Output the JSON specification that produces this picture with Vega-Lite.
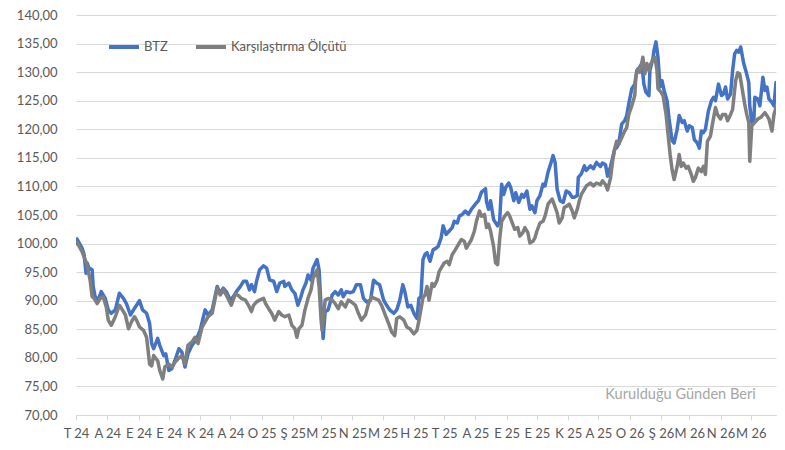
{
"$schema":"https://vega.github.io/schema/vega-lite/v6.json",
"width":700,"height":400,
"autosize":{"type":"none"},
"padding":{"left":76,"top":15,"right":9,"bottom":35},
"background":"white",
"config":{"view":{"stroke":null},"font":"Lato",
 "axisX":{"grid":false,"tickCount":{"interval":"month","step":1},"labelExpr":"['O','Ş','M','N','M','H','T','A','E','E','K','A'][utcmonth(datum.value)] + ' ' + utcFormat(datum.value, '%y')","domainColor":"#D9D9D9","tickColor":"#D9D9D9","tickSize":5,"labelColor":"#595959","labelFontSize":13,"labelFont":"Lato","labelPadding":7,"labelOverlap":false,"labelFlush":false,"labelAlign":"center"},
 "axisY":{"tickCount":14,"labelExpr":"replace(format(datum.value,'.2f'),'.',',')","ticks":false,"tickSize":0,"domain":false,"gridColor":"#D9D9D9","labelColor":"#595959","labelFontSize":13,"labelFont":"Lato","labelPadding":19}
},
"layer":[
{"data":{"values":[
{"date":"2024-07-01","value":100.0},{"date":"2024-07-02","value":100.8},{"date":"2024-07-07","value":99.2},{"date":"2024-07-09","value":98.1},{"date":"2024-07-11","value":94.8},{"date":"2024-07-12","value":96.6},{"date":"2024-07-14","value":95.7},{"date":"2024-07-17","value":95.4},{"date":"2024-07-18","value":92.5},{"date":"2024-07-20","value":90.7},{"date":"2024-07-23","value":90.1},{"date":"2024-07-26","value":91.6},{"date":"2024-07-30","value":90.4},{"date":"2024-08-02","value":88.4},{"date":"2024-08-05","value":87.8},{"date":"2024-08-09","value":88.4},{"date":"2024-08-13","value":91.3},{"date":"2024-08-17","value":90.4},{"date":"2024-08-20","value":89.5},{"date":"2024-08-24","value":87.5},{"date":"2024-08-27","value":88.4},{"date":"2024-08-30","value":89.2},{"date":"2024-09-02","value":90.0},{"date":"2024-09-05","value":88.4},{"date":"2024-09-09","value":87.8},{"date":"2024-09-12","value":86.0},{"date":"2024-09-14","value":82.5},{"date":"2024-09-16","value":81.6},{"date":"2024-09-20","value":83.4},{"date":"2024-09-22","value":82.2},{"date":"2024-09-26","value":80.4},{"date":"2024-09-28","value":80.7},{"date":"2024-10-01","value":77.8},{"date":"2024-10-04","value":78.1},{"date":"2024-10-07","value":79.5},{"date":"2024-10-11","value":81.6},{"date":"2024-10-14","value":81.0},{"date":"2024-10-17","value":78.4},{"date":"2024-10-20","value":80.7},{"date":"2024-10-24","value":82.2},{"date":"2024-10-28","value":83.1},{"date":"2024-11-01","value":84.8},{"date":"2024-11-06","value":88.4},{"date":"2024-11-09","value":87.5},{"date":"2024-11-13","value":88.4},{"date":"2024-11-18","value":92.5},{"date":"2024-11-21","value":91.3},{"date":"2024-11-24","value":92.2},{"date":"2024-11-27","value":91.6},{"date":"2024-12-01","value":90.1},{"date":"2024-12-04","value":90.7},{"date":"2024-12-07","value":91.6},{"date":"2024-12-11","value":92.5},{"date":"2024-12-14","value":93.4},{"date":"2024-12-17","value":93.4},{"date":"2024-12-20","value":91.9},{"date":"2024-12-22","value":92.8},{"date":"2024-12-25","value":91.6},{"date":"2024-12-27","value":93.4},{"date":"2024-12-30","value":95.4},
{"date":"2025-01-03","value":96.1},{"date":"2025-01-06","value":95.7},{"date":"2025-01-09","value":93.6},{"date":"2025-01-13","value":93.4},{"date":"2025-01-16","value":91.6},{"date":"2025-01-19","value":93.1},{"date":"2025-01-23","value":93.4},{"date":"2025-01-24","value":92.5},{"date":"2025-01-28","value":93.1},{"date":"2025-01-31","value":91.9},{"date":"2025-02-03","value":91.3},{"date":"2025-02-06","value":89.2},{"date":"2025-02-09","value":90.7},{"date":"2025-02-11","value":91.9},{"date":"2025-02-14","value":93.1},{"date":"2025-02-16","value":94.5},{"date":"2025-02-19","value":93.6},{"date":"2025-02-21","value":95.7},{"date":"2025-02-25","value":97.2},{"date":"2025-02-27","value":95.4},{"date":"2025-03-01","value":88.9},{"date":"2025-03-03","value":83.4},{"date":"2025-03-05","value":88.1},{"date":"2025-03-08","value":88.4},{"date":"2025-03-12","value":91.0},{"date":"2025-03-15","value":91.6},{"date":"2025-03-18","value":91.0},{"date":"2025-03-21","value":91.9},{"date":"2025-03-23","value":90.7},{"date":"2025-03-26","value":91.6},{"date":"2025-03-30","value":91.4},{"date":"2025-04-02","value":91.6},{"date":"2025-04-05","value":92.8},{"date":"2025-04-09","value":92.8},{"date":"2025-04-12","value":90.4},{"date":"2025-04-15","value":89.8},{"date":"2025-04-19","value":90.1},{"date":"2025-04-22","value":93.6},{"date":"2025-04-25","value":93.1},{"date":"2025-04-28","value":92.8},{"date":"2025-05-02","value":90.1},{"date":"2025-05-05","value":89.2},{"date":"2025-05-08","value":88.4},{"date":"2025-05-12","value":87.8},{"date":"2025-05-15","value":88.4},{"date":"2025-05-18","value":90.1},{"date":"2025-05-21","value":92.8},{"date":"2025-05-23","value":91.6},{"date":"2025-05-26","value":88.9},{"date":"2025-05-29","value":89.2},{"date":"2025-06-01","value":87.8},{"date":"2025-06-04","value":86.9},{"date":"2025-06-06","value":90.4},{"date":"2025-06-08","value":90.7},{"date":"2025-06-10","value":97.2},{"date":"2025-06-12","value":98.1},{"date":"2025-06-14","value":98.4},{"date":"2025-06-17","value":96.9},{"date":"2025-06-20","value":98.9},{"date":"2025-06-23","value":99.2},{"date":"2025-06-25","value":99.5},{"date":"2025-06-28","value":101.0},{"date":"2025-06-30","value":103.1},
{"date":"2025-07-03","value":101.6},{"date":"2025-07-06","value":102.2},{"date":"2025-07-09","value":102.8},{"date":"2025-07-11","value":103.9},{"date":"2025-07-14","value":103.6},{"date":"2025-07-16","value":104.8},{"date":"2025-07-19","value":105.1},{"date":"2025-07-22","value":105.7},{"date":"2025-07-25","value":105.1},{"date":"2025-07-28","value":106.0},{"date":"2025-08-01","value":106.9},{"date":"2025-08-04","value":107.5},{"date":"2025-08-07","value":109.0},{"date":"2025-08-11","value":109.6},{"date":"2025-08-12","value":107.3},{"date":"2025-08-14","value":106.0},{"date":"2025-08-16","value":107.5},{"date":"2025-08-19","value":104.2},{"date":"2025-08-23","value":103.1},{"date":"2025-08-25","value":103.9},{"date":"2025-08-27","value":110.4},{"date":"2025-08-29","value":108.6},{"date":"2025-08-31","value":109.8},{"date":"2025-09-03","value":110.6},{"date":"2025-09-05","value":109.8},{"date":"2025-09-08","value":107.5},{"date":"2025-09-10","value":108.9},{"date":"2025-09-13","value":107.2},{"date":"2025-09-16","value":108.6},{"date":"2025-09-18","value":108.1},{"date":"2025-09-21","value":109.2},{"date":"2025-09-24","value":106.0},{"date":"2025-09-26","value":106.6},{"date":"2025-09-29","value":105.4},{"date":"2025-10-01","value":107.5},{"date":"2025-10-04","value":108.4},{"date":"2025-10-07","value":110.4},{"date":"2025-10-09","value":110.1},{"date":"2025-10-12","value":112.5},{"date":"2025-10-15","value":114.2},{"date":"2025-10-17","value":115.4},{"date":"2025-10-19","value":114.2},{"date":"2025-10-21","value":109.5},{"date":"2025-10-24","value":107.5},{"date":"2025-10-27","value":107.2},{"date":"2025-10-30","value":109.2},{"date":"2025-11-02","value":108.9},{"date":"2025-11-05","value":108.1},{"date":"2025-11-07","value":108.1},{"date":"2025-11-10","value":108.4},{"date":"2025-11-11","value":111.6},{"date":"2025-11-14","value":112.2},{"date":"2025-11-17","value":113.6},{"date":"2025-11-19","value":112.8},{"date":"2025-11-23","value":113.6},{"date":"2025-11-26","value":113.1},{"date":"2025-11-29","value":114.2},{"date":"2025-12-03","value":113.5},{"date":"2025-12-05","value":114.1},{"date":"2025-12-08","value":113.8},{"date":"2025-12-10","value":111.8},{"date":"2025-12-13","value":113.5},{"date":"2025-12-15","value":115.0},{"date":"2025-12-17","value":116.5},{"date":"2025-12-19","value":116.8},{"date":"2025-12-21","value":117.4},{"date":"2025-12-24","value":120.9},{"date":"2025-12-27","value":121.5},{"date":"2025-12-29","value":122.4},{"date":"2025-12-31","value":124.4},
{"date":"2026-01-03","value":127.1},{"date":"2026-01-06","value":127.9},{"date":"2026-01-08","value":130.3},{"date":"2026-01-10","value":130.6},{"date":"2026-01-13","value":131.5},{"date":"2026-01-15","value":127.9},{"date":"2026-01-17","value":126.5},{"date":"2026-01-20","value":125.9},{"date":"2026-01-21","value":130.3},{"date":"2026-01-24","value":132.4},{"date":"2026-01-25","value":133.8},{"date":"2026-01-27","value":135.3},{"date":"2026-01-29","value":132.6},{"date":"2026-01-31","value":127.4},{"date":"2026-02-02","value":128.5},{"date":"2026-02-04","value":126.8},{"date":"2026-02-07","value":125.0},{"date":"2026-02-09","value":121.8},{"date":"2026-02-12","value":118.0},{"date":"2026-02-14","value":117.6},{"date":"2026-02-17","value":120.0},{"date":"2026-02-19","value":122.4},{"date":"2026-02-22","value":121.2},{"date":"2026-02-24","value":121.5},{"date":"2026-02-27","value":119.7},{"date":"2026-03-01","value":120.6},{"date":"2026-03-04","value":120.3},{"date":"2026-03-06","value":118.2},{"date":"2026-03-09","value":117.6},{"date":"2026-03-11","value":116.7},{"date":"2026-03-13","value":119.7},{"date":"2026-03-15","value":119.4},{"date":"2026-03-17","value":120.0},{"date":"2026-03-20","value":123.2},{"date":"2026-03-23","value":125.0},{"date":"2026-03-25","value":125.6},{"date":"2026-03-27","value":125.0},{"date":"2026-03-30","value":127.9},{"date":"2026-04-02","value":125.9},{"date":"2026-04-04","value":126.2},{"date":"2026-04-06","value":127.4},{"date":"2026-04-08","value":125.3},{"date":"2026-04-11","value":126.2},{"date":"2026-04-13","value":130.3},{"date":"2026-04-15","value":133.2},{"date":"2026-04-17","value":133.8},{"date":"2026-04-19","value":133.5},{"date":"2026-04-21","value":134.4},{"date":"2026-04-24","value":131.5},{"date":"2026-04-26","value":130.3},{"date":"2026-04-29","value":128.2},{"date":"2026-04-30","value":124.1},{"date":"2026-05-02","value":121.2},{"date":"2026-05-04","value":121.5},{"date":"2026-05-05","value":125.6},{"date":"2026-05-08","value":125.3},{"date":"2026-05-10","value":124.1},{"date":"2026-05-13","value":129.1},{"date":"2026-05-15","value":126.8},{"date":"2026-05-17","value":127.4},{"date":"2026-05-19","value":125.3},{"date":"2026-05-22","value":124.7},{"date":"2026-05-24","value":124.1},{"date":"2026-05-26","value":128.2}
]},
"mark":{"type":"line","strokeWidth":3.5,"strokeJoin":"round","strokeCap":"round","clip":true},
"encoding":{
 "x":{"field":"date","type":"temporal","scale":{"type":"utc","domain":[{"year":2024,"month":7,"date":1,"utc":true},{"year":2026,"month":5,"date":26,"utc":true}]},"axis":{"title":null}},
 "y":{"field":"value","type":"quantitative","scale":{"domain":[70,140],"nice":false,"zero":false},"axis":{"title":null}},
 "color":{"datum":"BTZ","type":"nominal","scale":{"domain":["BTZ","Karşılaştırma Ölçütü"],"range":["#4472C4","#7F7F7F"]},
 "legend":{"orient":"none","legendX":31,"legendY":15,"direction":"horizontal","title":null,"symbolType":"stroke","symbolStrokeWidth":4,"symbolSize":900,"labelFontSize":13,"labelFont":"Lato","labelColor":"#595959","labelOffset":3,"columnPadding":20}}}},
{"data":{"values":[
{"date":"2024-07-01","value":100.0},{"date":"2024-07-02","value":100.2},{"date":"2024-07-07","value":98.6},{"date":"2024-07-10","value":97.2},{"date":"2024-07-12","value":96.3},{"date":"2024-07-15","value":93.6},{"date":"2024-07-17","value":90.7},{"date":"2024-07-19","value":90.4},{"date":"2024-07-22","value":89.5},{"date":"2024-07-25","value":90.4},{"date":"2024-07-28","value":90.7},{"date":"2024-07-31","value":88.9},{"date":"2024-08-02","value":86.6},{"date":"2024-08-05","value":85.7},{"date":"2024-08-09","value":87.2},{"date":"2024-08-13","value":89.2},{"date":"2024-08-16","value":88.4},{"date":"2024-08-19","value":87.5},{"date":"2024-08-22","value":85.1},{"date":"2024-08-25","value":86.3},{"date":"2024-08-28","value":87.2},{"date":"2024-08-30","value":86.6},{"date":"2024-09-02","value":85.4},{"date":"2024-09-06","value":84.8},{"date":"2024-09-09","value":83.6},{"date":"2024-09-12","value":78.9},{"date":"2024-09-14","value":78.6},{"date":"2024-09-16","value":80.4},{"date":"2024-09-20","value":79.5},{"date":"2024-09-22","value":77.8},{"date":"2024-09-25","value":76.3},{"date":"2024-09-27","value":78.4},{"date":"2024-10-01","value":78.9},{"date":"2024-10-04","value":78.4},{"date":"2024-10-07","value":79.2},{"date":"2024-10-10","value":79.8},{"date":"2024-10-14","value":80.4},{"date":"2024-10-17","value":78.9},{"date":"2024-10-20","value":82.2},{"date":"2024-10-24","value":82.8},{"date":"2024-10-27","value":83.6},{"date":"2024-10-30","value":82.5},{"date":"2024-11-03","value":85.4},{"date":"2024-11-06","value":86.3},{"date":"2024-11-09","value":87.2},{"date":"2024-11-13","value":87.8},{"date":"2024-11-18","value":92.2},{"date":"2024-11-21","value":91.0},{"date":"2024-11-24","value":91.9},{"date":"2024-11-27","value":91.0},{"date":"2024-12-02","value":89.2},{"date":"2024-12-06","value":91.2},{"date":"2024-12-09","value":90.9},{"date":"2024-12-12","value":90.4},{"date":"2024-12-16","value":90.1},{"date":"2024-12-19","value":89.2},{"date":"2024-12-22","value":88.1},{"date":"2024-12-24","value":89.2},{"date":"2024-12-27","value":89.8},{"date":"2024-12-30","value":90.1},
{"date":"2025-01-03","value":90.4},{"date":"2025-01-05","value":89.5},{"date":"2025-01-08","value":88.6},{"date":"2025-01-11","value":87.8},{"date":"2025-01-14","value":86.6},{"date":"2025-01-18","value":88.1},{"date":"2025-01-21","value":87.5},{"date":"2025-01-24","value":87.2},{"date":"2025-01-28","value":87.5},{"date":"2025-01-31","value":85.7},{"date":"2025-02-03","value":85.1},{"date":"2025-02-05","value":83.6},{"date":"2025-02-07","value":85.1},{"date":"2025-02-10","value":85.7},{"date":"2025-02-13","value":88.4},{"date":"2025-02-16","value":90.4},{"date":"2025-02-19","value":91.9},{"date":"2025-02-21","value":93.9},{"date":"2025-02-25","value":95.4},{"date":"2025-02-27","value":92.5},{"date":"2025-03-01","value":86.6},{"date":"2025-03-02","value":84.8},{"date":"2025-03-05","value":90.1},{"date":"2025-03-08","value":90.4},{"date":"2025-03-12","value":90.1},{"date":"2025-03-15","value":89.5},{"date":"2025-03-18","value":88.6},{"date":"2025-03-21","value":89.8},{"date":"2025-03-25","value":88.9},{"date":"2025-03-28","value":90.1},{"date":"2025-03-31","value":89.8},{"date":"2025-04-04","value":89.2},{"date":"2025-04-07","value":87.8},{"date":"2025-04-10","value":86.6},{"date":"2025-04-14","value":87.5},{"date":"2025-04-17","value":89.5},{"date":"2025-04-20","value":90.7},{"date":"2025-04-23","value":90.4},{"date":"2025-04-27","value":90.1},{"date":"2025-04-30","value":89.2},{"date":"2025-05-03","value":87.8},{"date":"2025-05-07","value":86.0},{"date":"2025-05-10","value":84.5},{"date":"2025-05-13","value":83.9},{"date":"2025-05-15","value":86.9},{"date":"2025-05-18","value":87.2},{"date":"2025-05-22","value":86.6},{"date":"2025-05-25","value":85.4},{"date":"2025-05-28","value":85.1},{"date":"2025-06-01","value":84.2},{"date":"2025-06-04","value":84.8},{"date":"2025-06-06","value":86.5},{"date":"2025-06-10","value":90.5},{"date":"2025-06-12","value":91.0},{"date":"2025-06-14","value":92.5},{"date":"2025-06-16","value":90.1},{"date":"2025-06-19","value":93.0},{"date":"2025-06-21","value":92.5},{"date":"2025-06-24","value":93.6},{"date":"2025-06-26","value":95.1},{"date":"2025-06-29","value":96.0},
{"date":"2025-07-01","value":96.6},{"date":"2025-07-04","value":96.9},{"date":"2025-07-06","value":96.3},{"date":"2025-07-09","value":98.1},{"date":"2025-07-12","value":98.9},{"date":"2025-07-14","value":99.5},{"date":"2025-07-16","value":100.1},{"date":"2025-07-18","value":100.7},{"date":"2025-07-21","value":100.4},{"date":"2025-07-23","value":99.2},{"date":"2025-07-26","value":100.1},{"date":"2025-07-28","value":100.7},{"date":"2025-07-31","value":102.2},{"date":"2025-08-02","value":103.9},{"date":"2025-08-05","value":105.7},{"date":"2025-08-07","value":104.8},{"date":"2025-08-10","value":105.1},{"date":"2025-08-12","value":102.8},{"date":"2025-08-14","value":103.4},{"date":"2025-08-16","value":102.2},{"date":"2025-08-19","value":99.5},{"date":"2025-08-21","value":96.6},{"date":"2025-08-23","value":96.3},{"date":"2025-08-25","value":100.7},{"date":"2025-08-27","value":103.9},{"date":"2025-08-30","value":104.8},{"date":"2025-09-02","value":105.4},{"date":"2025-09-04","value":104.8},{"date":"2025-09-07","value":103.4},{"date":"2025-09-09","value":102.5},{"date":"2025-09-12","value":102.8},{"date":"2025-09-14","value":101.3},{"date":"2025-09-17","value":101.9},{"date":"2025-09-19","value":102.8},{"date":"2025-09-22","value":101.9},{"date":"2025-09-24","value":100.1},{"date":"2025-09-27","value":100.4},{"date":"2025-09-29","value":101.0},{"date":"2025-10-01","value":102.2},{"date":"2025-10-04","value":103.6},{"date":"2025-10-07","value":103.9},{"date":"2025-10-09","value":104.8},{"date":"2025-10-12","value":106.9},{"date":"2025-10-16","value":107.8},{"date":"2025-10-18","value":106.9},{"date":"2025-10-21","value":105.4},{"date":"2025-10-23","value":103.6},{"date":"2025-10-26","value":104.5},{"date":"2025-10-28","value":106.3},{"date":"2025-10-31","value":106.6},{"date":"2025-11-02","value":106.9},{"date":"2025-11-05","value":105.7},{"date":"2025-11-07","value":104.5},{"date":"2025-11-10","value":106.0},{"date":"2025-11-12","value":107.5},{"date":"2025-11-14","value":108.6},{"date":"2025-11-17","value":109.5},{"date":"2025-11-19","value":110.1},{"date":"2025-11-23","value":110.6},{"date":"2025-11-26","value":110.1},{"date":"2025-11-29","value":110.6},{"date":"2025-12-03","value":110.3},{"date":"2025-12-05","value":111.0},{"date":"2025-12-08","value":110.3},{"date":"2025-12-10","value":109.4},{"date":"2025-12-13","value":111.5},{"date":"2025-12-15","value":114.4},{"date":"2025-12-17","value":116.5},{"date":"2025-12-19","value":117.9},{"date":"2025-12-21","value":117.4},{"date":"2025-12-24","value":118.5},{"date":"2025-12-27","value":119.7},{"date":"2025-12-29","value":120.3},{"date":"2025-12-31","value":122.6},
{"date":"2026-01-03","value":124.1},{"date":"2026-01-06","value":125.9},{"date":"2026-01-07","value":129.1},{"date":"2026-01-09","value":130.6},{"date":"2026-01-11","value":130.0},{"date":"2026-01-14","value":132.6},{"date":"2026-01-16","value":129.7},{"date":"2026-01-18","value":131.5},{"date":"2026-01-20","value":130.3},{"date":"2026-01-21","value":131.2},{"date":"2026-01-24","value":132.1},{"date":"2026-01-26","value":132.6},{"date":"2026-01-28","value":130.3},{"date":"2026-01-29","value":127.1},{"date":"2026-02-01","value":126.5},{"date":"2026-02-03","value":125.9},{"date":"2026-02-06","value":122.6},{"date":"2026-02-08","value":119.1},{"date":"2026-02-10","value":115.6},{"date":"2026-02-12","value":112.9},{"date":"2026-02-14","value":111.2},{"date":"2026-02-17","value":113.5},{"date":"2026-02-19","value":115.6},{"date":"2026-02-21","value":113.5},{"date":"2026-02-23","value":114.1},{"date":"2026-02-26","value":113.2},{"date":"2026-02-28","value":113.5},{"date":"2026-03-03","value":112.1},{"date":"2026-03-05","value":110.9},{"date":"2026-03-07","value":111.5},{"date":"2026-03-10","value":113.2},{"date":"2026-03-13","value":112.6},{"date":"2026-03-15","value":113.5},{"date":"2026-03-17","value":112.1},{"date":"2026-03-19","value":117.9},{"date":"2026-03-22","value":118.8},{"date":"2026-03-24","value":120.9},{"date":"2026-03-27","value":123.8},{"date":"2026-03-29","value":122.6},{"date":"2026-04-01","value":121.8},{"date":"2026-04-03","value":122.6},{"date":"2026-04-06","value":122.6},{"date":"2026-04-08","value":121.5},{"date":"2026-04-11","value":122.6},{"date":"2026-04-13","value":123.5},{"date":"2026-04-16","value":128.5},{"date":"2026-04-18","value":129.9},{"date":"2026-04-20","value":129.7},{"date":"2026-04-22","value":127.6},{"date":"2026-04-25","value":124.4},{"date":"2026-04-27","value":122.6},{"date":"2026-04-29","value":121.2},{"date":"2026-04-30","value":114.4},{"date":"2026-05-02","value":120.6},{"date":"2026-05-05","value":121.2},{"date":"2026-05-08","value":121.8},{"date":"2026-05-11","value":122.1},{"date":"2026-05-15","value":122.9},{"date":"2026-05-17","value":122.4},{"date":"2026-05-19","value":121.8},{"date":"2026-05-22","value":119.7},{"date":"2026-05-24","value":122.6},{"date":"2026-05-26","value":123.8}
]},
"mark":{"type":"line","strokeWidth":3.5,"strokeJoin":"round","strokeCap":"round","clip":true},
"encoding":{
 "x":{"field":"date","type":"temporal","scale":{"type":"utc"},"axis":{"title":null}},
 "y":{"field":"value","type":"quantitative","axis":{"title":null}},
 "color":{"datum":"Karşılaştırma Ölçütü","type":"nominal"}}},
{"data":{"values":[{"label":"Kurulduğu Günden Beri"}]},
"mark":{"type":"text","align":"right","baseline":"middle","fontSize":14.6,"font":"Lato","fill":"#A6A6A6"},
"encoding":{
 "x":{"datum":1778025600000,"type":"temporal","scale":{"type":"utc"},"axis":{"title":null}},
 "y":{"datum":73.5,"type":"quantitative","axis":{"title":null}},
 "text":{"field":"label","type":"nominal"}}}
]
}
